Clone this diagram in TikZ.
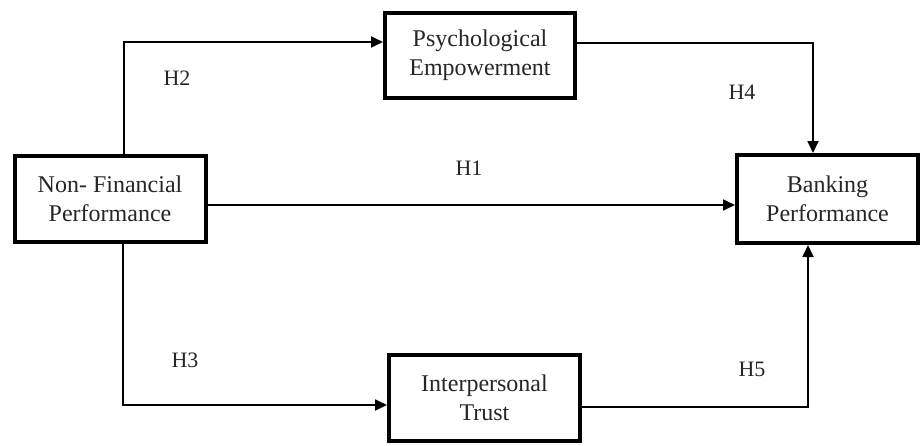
\documentclass[tikz,border=0pt]{standalone}
\usepackage{fontspec}
\setmainfont{Liberation Serif}
\usetikzlibrary{arrows.meta,positioning}
\begin{document}
\begin{tikzpicture}[x=1pt,y=-1pt,
  box/.style={draw=black,line width=4pt,fill=white,align=center,
    text=black!85,inner sep=0pt,
    font=\fontsize{24}{29}\selectfont},
  conn/.style={draw=black,line width=1.8pt,-{Triangle[length=12pt,width=11pt]}},
  hlab/.style={text=black!85,inner sep=0pt,font=\fontsize{22}{26}\selectfont}]
\useasboundingbox (0,0) rectangle (922,445);
\node[box,minimum width=191pt,minimum height=86pt] (nfp) at (110,199) {Non- Financial\\Performance};
\node[box,minimum width=190pt,minimum height=85pt] (pe) at (480,55.5) {Psychological\\Empowerment};
\node[box,minimum width=181pt,minimum height=88pt] (bp) at (827.5,199) {Banking\\Performance};
\node[box,minimum width=191pt,minimum height=86pt] (it) at (484.5,398) {Interpersonal\\Trust};
\draw[conn] ([xshift=14pt]nfp.north) |- ([yshift=13.5pt]pe.west);
\draw[conn] ([yshift=12.5pt]pe.east) -| ([xshift=-14.5pt]bp.north);
\draw[conn] ([yshift=-6pt]nfp.east) -- ([yshift=-6pt]nfp.east -| bp.west);
\draw[conn] ([xshift=13pt]nfp.south) |- ([yshift=-7pt]it.west);
\draw[conn] ([yshift=-9pt]it.east) -| ([xshift=-19.5pt]bp.south);
\node[hlab] (h1) at (469,168) {H1};
\node[hlab] (h2) at (177,78) {H2};
\node[hlab] (h3) at (185,360) {H3};
\node[hlab] (h4) at (742,92) {H4};
\node[hlab] (h5) at (752,369) {H5};
\end{tikzpicture}
\end{document}
